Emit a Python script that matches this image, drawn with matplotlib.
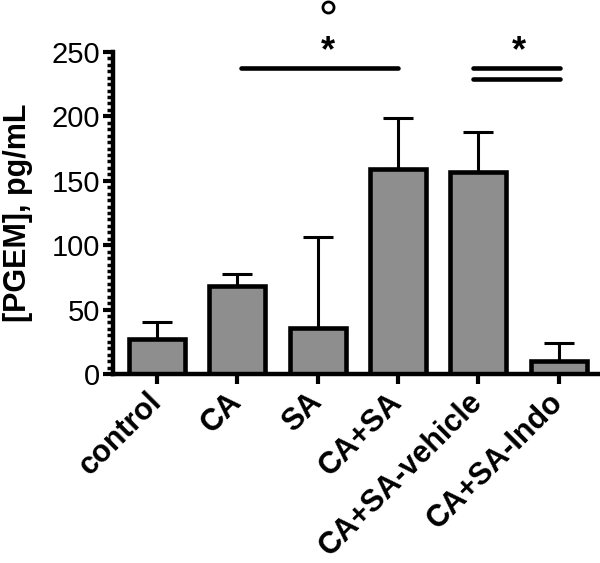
import matplotlib
matplotlib.use("Agg")
import matplotlib.pyplot as plt
from matplotlib.ticker import MultipleLocator

plt.rcParams['font.family'] = ['Liberation Sans', 'DejaVu Sans']

categories = ["control", "CA", "SA", "CA+SA", "CA+SA-vehicle", "CA+SA-Indo"]
means = [27, 68, 36, 159, 157, 10]
err_upper = [13, 10, 70, 40, 31, 14]

fig = plt.figure(figsize=(6.0, 5.63), dpi=100)
ax = fig.add_axes([0.188, 0.3357, 0.81, 0.572])

x = list(range(len(categories)))
ax.errorbar(x, means, yerr=[[0]*len(means), err_upper], fmt='none',
            ecolor='black', elinewidth=2.2, capsize=10.5, capthick=2.2, zorder=1)
ax.bar(x, means, width=0.7, color='#8e8e8e', edgecolor='black', linewidth=3.3, zorder=2)

ax.set_xlim(-0.55, 5.5)
ax.set_ylim(0, 250)
ax.yaxis.set_major_locator(MultipleLocator(50))
ax.yaxis.set_minor_locator(MultipleLocator(5))

for s in ['top', 'right']:
    ax.spines[s].set_visible(False)
for s in ['left', 'bottom']:
    ax.spines[s].set_linewidth(3.2)

ax.tick_params(axis='y', which='major', length=7, width=3, labelsize=21, pad=2)
ax.tick_params(axis='y', which='minor', length=4, width=2.5)
ax.tick_params(axis='x', which='major', length=7, width=3, labelsize=22, pad=10)

ax.set_xticks(x)
ax.set_xticklabels(categories, rotation=45, ha='right', va='center',
                   rotation_mode='anchor', fontweight='bold')
ax.set_ylabel("[PGEM], pg/mL", fontsize=22, fontweight='bold')
ax.yaxis.set_label_coords(-0.165, 0.5)

# significance annotations
ax.plot([1.04, 3.0], [237.5, 237.5], color='black', lw=3.3,
        solid_capstyle='round', clip_on=False)
ax.text(2.13, 250, "*", ha='center', va='center', fontsize=26, fontweight='bold')
ax.plot([2.13], [285], marker='o', markersize=8, markerfacecolor='white',
        markeredgecolor='black', markeredgewidth=2, clip_on=False)

ax.plot([3.93, 5.02], [237.5, 237.5], color='black', lw=3.3,
        solid_capstyle='round', clip_on=False)
ax.plot([3.93, 5.02], [229, 229], color='black', lw=3.3,
        solid_capstyle='round', clip_on=False)
ax.text(4.51, 250, "*", ha='center', va='center', fontsize=26, fontweight='bold')

fig.savefig("out.png", dpi=100)
